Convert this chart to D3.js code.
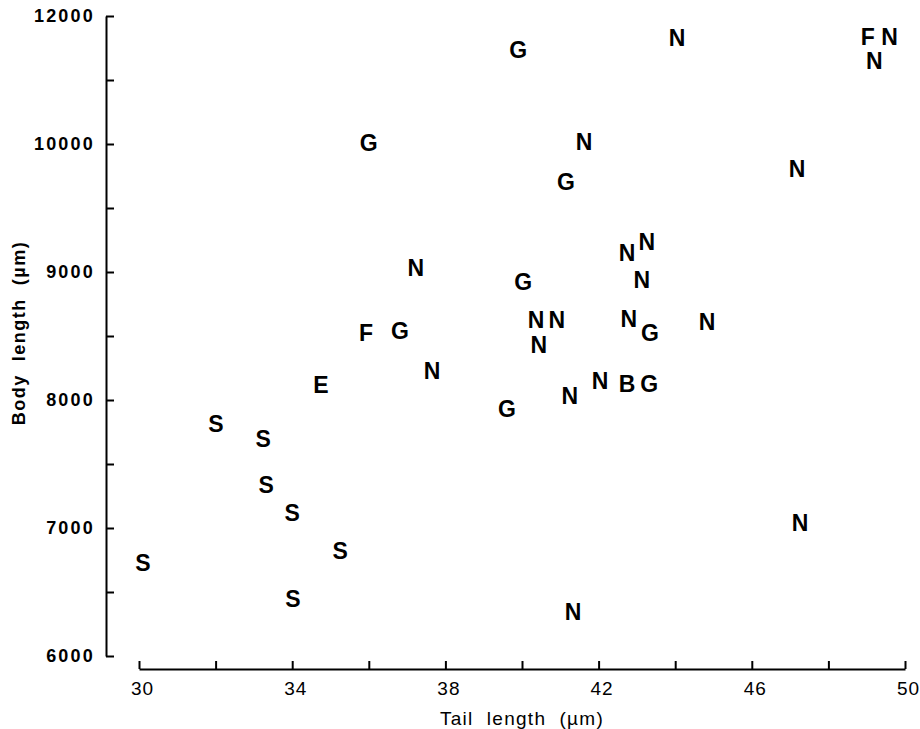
<!DOCTYPE html>
<html>
<head>
<meta charset="utf-8">
<script src="https://cdn.jsdelivr.net/npm/d3@7"></script>
<style>
  body { margin: 0; background: #fff; }
  svg { display: block; }
</style>
</head>
<body>
<svg width="920" height="729"></svg>
<script>
// species letters, tail length (µm), body length (µm)
var letters = ["G","N","F","N","N","G","N","G","N","N","N","N","N","G","N","N","N","N","G","N","F","G","N","E","G","N","N","B","G","S","S","S","S","S","S","S","N","N"];
var tail = [39.9,44.05,49.03,49.6,49.2,36.0,41.62,41.15,47.18,42.74,43.26,43.13,37.23,40.03,40.37,40.91,40.44,42.79,43.34,44.83,35.93,36.81,37.65,34.75,39.61,41.25,42.04,42.74,43.32,32.01,33.24,33.32,34.0,35.25,30.1,34.02,41.33,47.26];
var body = [11470,11656,11670,11670,11297,10023,10031,9703,9805,9148,9234,8937,9031,8922,8625,8625,8430,8633,8523,8609,8523,8539,8227,8117,7930,8031,8148,8125,8125,7812,7695,7336,7117,6820,6727,6445,6344,7039];

var xTicks = [30,32,34,36,38,40,42,44,46,48,50];
var xTickLabels = ["30","","34","","38","","42","","46","","50"];
var yTicks = [6000,6500,7000,7500,8000,8500,9000,9500,10000,11000,12000];
var yTickLabels = ["6000","","7000","","8000","","9000","","10000","","12000"];

var svg = d3.select("svg");
var font = "Liberation Sans, Arial, sans-serif";

var x = d3.scaleLinear().domain([30, 50]).range([139, 905]);
// the printed axis is compressed above 10000
var y = d3.scaleLinear().domain([6000, 10000, 12000]).range([656, 144, 16]);

// y axis
var gy = svg.append("g")
    .attr("transform", "translate(106,0)")
    .call(d3.axisLeft(y)
      .tickValues(yTicks)
      .tickSizeInner(-8)
      .tickSizeOuter(0)
      .tickPadding(11)
      .tickFormat(function(d, i) { return yTickLabels[i]; }));
gy.selectAll("path, line").attr("stroke", "#000").attr("stroke-width", 2);
gy.selectAll("text")
    .attr("font-family", font)
    .attr("font-weight", "bold")
    .attr("font-size", 18)
    .attr("letter-spacing", 2.2)
    .attr("fill", "#000");

// x axis
var gx = svg.append("g")
    .attr("transform", "translate(0,669)")
    .call(d3.axisBottom(x)
      .tickValues(xTicks)
      .tickSizeInner(-8)
      .tickSizeOuter(0)
      .tickPadding(13)
      .tickFormat(function(d, i) { return xTickLabels[i]; }));
gx.selectAll("path, line").attr("stroke", "#000").attr("stroke-width", 2);
gx.selectAll("text")
    .attr("font-family", font)
    .attr("font-size", 19)
    .attr("letter-spacing", 1)
    .attr("dx", 3)
    .attr("fill", "#000");

// axis titles
svg.append("text")
    .attr("x", 522)
    .attr("y", 725)
    .attr("text-anchor", "middle")
    .attr("font-family", font)
    .attr("font-size", 19)
    .attr("letter-spacing", 1.3)
    .style("white-space", "pre")
    .text("Tail  length  (µm)");

svg.append("text")
    .attr("transform", "translate(25,333) rotate(-90)")
    .attr("text-anchor", "middle")
    .attr("font-family", font)
    .attr("font-size", 18)
    .attr("font-weight", "bold")
    .attr("letter-spacing", 1.5)
    .style("white-space", "pre")
    .text("Body  length  (µm)");

// letter markers
svg.append("g").selectAll("text")
    .data(letters)
    .join("text")
    .attr("x", function(d, i) { return x(tail[i]); })
    .attr("y", function(d, i) { return y(body[i]); })
    .attr("dy", "0.36em")
    .attr("text-anchor", "middle")
    .attr("font-family", font)
    .attr("font-weight", "bold")
    .attr("font-size", 23)
    .text(function(d) { return d; });
</script>
</body>
</html>
